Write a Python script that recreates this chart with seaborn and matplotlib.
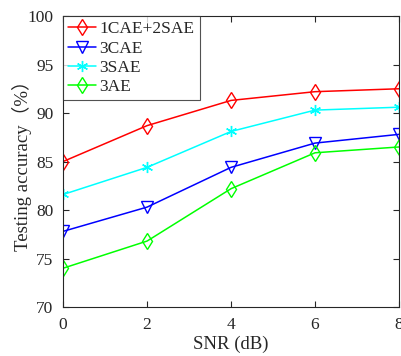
import numpy as np
import pandas as pd
import seaborn as sns
import matplotlib
matplotlib.use("Agg")
import matplotlib.pyplot as plt

snr = [0, 2, 4, 6, 8]
names = ["1CAE+2SAE", "3CAE", "3SAE", "3AE"]
acc_1cae2sae = [85.0, 88.7, 91.3, 92.2, 92.5]
acc_3cae = [77.8, 80.3, 84.4, 86.9, 87.8]
acc_3sae = [81.6, 84.4, 88.1, 90.3, 90.6]
acc_3ae = [74.0, 76.8, 82.2, 85.9, 86.5]

df = pd.DataFrame({
    "snr": snr * 4,
    "acc": acc_1cae2sae + acc_3cae + acc_3sae + acc_3ae,
    "model": [n for n in names for _ in snr],
})

sns.set_style("ticks")
plt.rcParams["font.family"] = ["Liberation Serif", "Noto Sans CJK SC"]

colors = {"1CAE+2SAE": "#ff0000", "3CAE": "#0000ff", "3SAE": "#00ffff", "3AE": "#00ff00"}
markers = {"1CAE+2SAE": "d", "3CAE": "v", "3SAE": (6, 2, 0), "3AE": "d"}

fig = plt.figure(figsize=(4.02, 3.56), dpi=100)
ax = fig.add_axes([0.157, 0.1376, 0.8355, 0.8174])

for n in names:
    sub = df[df["model"] == n]
    sns.lineplot(data=sub, x="snr", y="acc", ax=ax, color=colors[n], marker=markers[n],
                 markersize=8, markerfacecolor="none" if n != "3SAE" else colors[n],
                 markeredgecolor=colors[n], markeredgewidth=1.0, linewidth=1.1, label=n)

ax.set_xlim(0, 8)
ax.set_ylim(70, 100)
ax.set_xticks([0, 2, 4, 6, 8])
ax.set_yticks([70, 75, 80, 85, 90, 95, 100])
ax.tick_params(direction="in", top=True, right=True, labelsize=12.5, length=4, width=0.8, pad=7)
for s in ax.spines.values():
    s.set_visible(True)
    s.set_color("#262626")
    s.set_linewidth(0.8)
ax.set_xlabel("SNR (dB)", fontsize=13.5, labelpad=2)
ax.set_ylabel("Testing accuracy（%）", fontsize=13.5, labelpad=-3)

leg = ax.legend(loc="upper left", fontsize=12.5, frameon=True, fancybox=False,
                edgecolor="#262626", borderaxespad=0, handlelength=1.6,
                handletextpad=0.2, labelspacing=0.18, borderpad=0.3)
leg.get_frame().set_linewidth(0.8)

fig.savefig("out.png", dpi=100)
